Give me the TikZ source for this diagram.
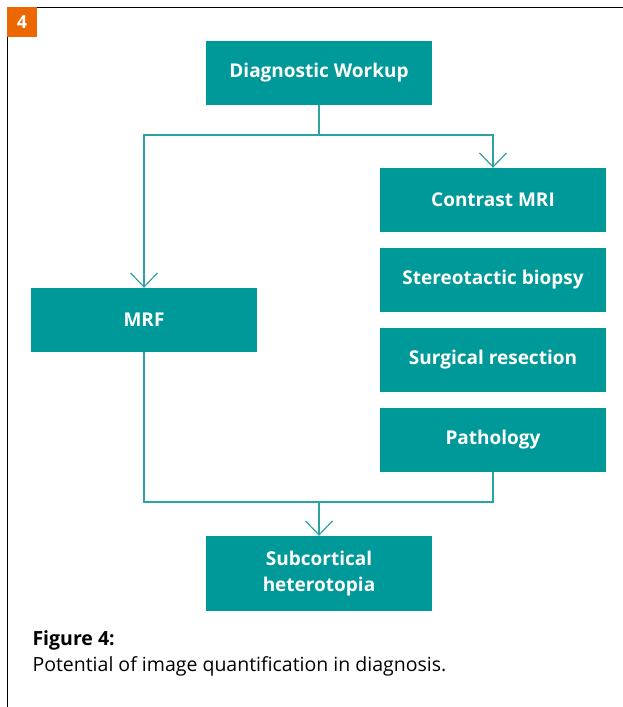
\documentclass[tikz,border=0pt]{standalone}
\usepackage{fontspec}
\setmainfont{Open Sans}
\usetikzlibrary{arrows.meta, positioning}
\definecolor{petrol}{HTML}{009999}
\definecolor{petrolline}{HTML}{2BA3A5}
\definecolor{badge}{HTML}{EC6602}
\tikzset{
  stage/.style={fill=petrol, text=white, minimum width=226pt, minimum height=64pt,
    inner sep=0pt, align=center, font=\fontsize{19}{26}\selectfont\bfseries},
  flow/.style={draw=petrolline, line width=1.2pt},
}
\begin{document}
\begin{tikzpicture}[x=1pt, y=-1pt, >={Straight Barb[length=14pt, width=27pt, line width=1.2pt]}]
  \useasboundingbox (0,0) rectangle (623,707);
  % frame and badge
  \draw[line width=1.3pt] (37,7.5) -- (623,7.5);
  \draw[line width=1.3pt] (7.5,37) -- (7.5,707);
  \fill[badge] (7,7) rectangle (37,37);
  \node[text=white, font=\fontsize{18}{20}\selectfont\bfseries] (num) at (22,22.5) {4};

  \node[stage] (workup) at (319,72.5) {Diagnostic Workup};
  \node[stage] (mri) at (493,200) {Contrast MRI};
  \node[stage] (biopsy) at (493,280) {Stereotactic biopsy};
  \node[stage] (resect) at (493,360) {Surgical resection};
  \node[stage] (patho) at (493,440) {Pathology};
  \node[stage] (mrf) at (144,320) {MRF};
  \node[stage, minimum height=75pt] (hetero) at (319,573.5) {Subcortical\\heterotopia};

  \coordinate (split) at (319,135);
  \coordinate (join) at (319,502);
  % arrows
  \draw[flow] (workup.south) -- (split);
  \draw[flow, ->] (split) -| (mrf.north);
  \draw[flow, ->] (split) -| (mri.north);
  \draw[flow] (mrf.south) |- (join);
  \draw[flow] (patho.south) |- (join);
  \draw[flow, ->] (join) -- (hetero.north);

  % caption
  \node[anchor=west, font=\fontsize{19.5}{22}\selectfont\bfseries] (cap) at (29,640) {Figure 4:};
  \node[anchor=west, font=\fontsize{19.5}{22}\selectfont] (captext) at (29,666) {Potential of image quantification in diagnosis.};
\end{tikzpicture}
\end{document}
